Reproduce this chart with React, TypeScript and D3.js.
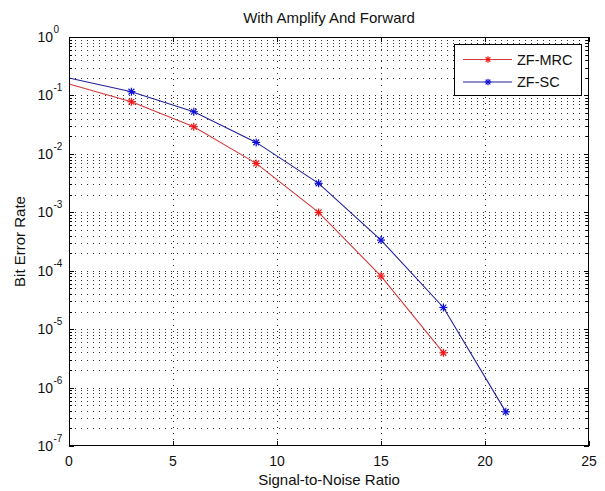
import React from "react";
import * as d3 from "d3";

const SNR = [0, 3, 6, 9, 12, 15, 18, 21];
const MRC = [0.157, 0.078, 0.0291, 0.00687, 0.000995, 0.000081, 0.00000393];
const SC = [0.199, 0.116, 0.0526, 0.0157, 0.00313, 0.000334, 0.0000235, 0.000000384];
const X_TICKS = [0, 5, 10, 15, 20, 25];
const Y_EXPONENTS = [0, -1, -2, -3, -4, -5, -6, -7];
const SERIES = [
  { name: "ZF-MRC", values: MRC, line: "#d23a3a", mark: "#f01818" },
  { name: "ZF-SC", values: SC, line: "#22229a", mark: "#1010d8" },
];

const W = 605, H = 491;
const L = 69, R = 589, T = 37, B = 446;
const FONT = "'Liberation Sans', Arial, sans-serif";

function Star({ cx, cy, color, r = 4 }: { cx: number; cy: number; color: string; r?: number }) {
  const d = r * 0.72;
  return (
    <g stroke={color} strokeWidth={1.2}>
      <line x1={cx - r} y1={cy} x2={cx + r} y2={cy} />
      <line x1={cx} y1={cy - r} x2={cx} y2={cy + r} />
      <line x1={cx - d} y1={cy - d} x2={cx + d} y2={cy + d} />
      <line x1={cx - d} y1={cy + d} x2={cx + d} y2={cy - d} />
    </g>
  );
}

export default function App() {
  const x = d3.scaleLinear().domain([0, 25]).range([L, R]);
  const y = d3.scaleLog().domain([1e-7, 1]).range([B, T]);

  const minor: number[] = [];
  for (let e = -7; e < 0; e++) for (let k = 2; k <= 9; k++) minor.push(k * Math.pow(10, e));
  const major = Y_EXPONENTS.map((e) => Math.pow(10, e));

  const line = d3
    .line<number>()
    .x((_, i) => x(SNR[i]))
    .y((v) => y(v));

  const px = (v: number) => Math.round(v) + 0.5;

  return (
    <svg width={W} height={H} style={{ position: "absolute", left: 0, top: 0, background: "#fff" }} fontFamily={FONT}>
      <rect x={0} y={0} width={W} height={H} fill="#fff" />
      {/* grid */}
      <g stroke="#333" strokeWidth={1} strokeDasharray="1,5" shapeRendering="crispEdges">
        {[...minor, ...major.slice(1, -1)].map((v, i) => (
          <line key={"h" + i} x1={L} x2={R} y1={px(y(v))} y2={px(y(v))} />
        ))}
        {X_TICKS.slice(1, -1).map((t) => (
          <line key={"v" + t} x1={px(x(t))} x2={px(x(t))} y1={T} y2={B} />
        ))}
      </g>
      {/* ticks */}
      <g stroke="#000" strokeWidth={1} shapeRendering="crispEdges">
        {X_TICKS.map((t) => (
          <g key={"xt" + t}>
            <line x1={px(x(t))} x2={px(x(t))} y1={B} y2={B - 5} />
            <line x1={px(x(t))} x2={px(x(t))} y1={T} y2={T + 5} />
          </g>
        ))}
        {major.map((v, i) => (
          <g key={"ym" + i}>
            <line x1={L} x2={L + 5} y1={px(y(v))} y2={px(y(v))} />
            <line x1={R} x2={R - 5} y1={px(y(v))} y2={px(y(v))} />
          </g>
        ))}
        {minor.map((v, i) => (
          <g key={"yn" + i}>
            <line x1={L} x2={L + 3} y1={px(y(v))} y2={px(y(v))} />
            <line x1={R} x2={R - 3} y1={px(y(v))} y2={px(y(v))} />
          </g>
        ))}
      </g>
      {/* data */}
      {SERIES.map((s) => (
        <g key={s.name}>
          <path d={line(s.values) || ""} fill="none" stroke={s.line} strokeWidth={1.1} />
          {s.values.map((v, i) =>
            i === 0 ? null : <Star key={i} cx={x(SNR[i])} cy={y(v)} color={s.mark} />
          )}
        </g>
      ))}
      {/* axes box */}
      <rect x={L + 0.5} y={T + 0.5} width={R - L - 1} height={B - T - 1} fill="none" stroke="#000" strokeWidth={1} />
      {/* x tick labels */}
      <g fontSize={14} fill="#111" textAnchor="middle">
        {X_TICKS.map((t) => (
          <text key={t} x={x(t)} y={466}>
            {t}
          </text>
        ))}
      </g>
      {/* y tick labels */}
      <g fill="#111">
        {Y_EXPONENTS.map((e) => (
          <g key={e}>
            <text x={53} y={y(Math.pow(10, e)) + 5} fontSize={14} textAnchor="end">
              10
            </text>
            <text x={53.5} y={y(Math.pow(10, e)) - 4} fontSize={10} textAnchor="start">
              {e}
            </text>
          </g>
        ))}
      </g>
      {/* labels */}
      <text x={(L + R) / 2} y={23} fontSize={15} textAnchor="middle" fill="#111">
        With Amplify And Forward
      </text>
      <text x={(L + R) / 2} y={485} fontSize={15} textAnchor="middle" fill="#111">
        Signal-to-Noise Ratio
      </text>
      <text
        transform={`translate(25, ${(T + B) / 2}) rotate(-90)`}
        fontSize={15}
        textAnchor="middle"
        fill="#111"
      >
        Bit Error Rate
      </text>
      {/* legend */}
      <g>
        <rect x={454.5} y={44.5} width={127} height={51} fill="#fff" stroke="#000" strokeWidth={1} />
        {SERIES.map((s, i) => {
          const ly = 59.5 + i * 22.5;
          return (
            <g key={s.name}>
              <line x1={463} x2={512} y1={ly} y2={ly} stroke={s.line} strokeWidth={1.1} />
              <Star cx={488} cy={ly} color={s.mark} r={3.3} />
              <text x={517} y={ly + 5} fontSize={14.5} fill="#111">
                {s.name}
              </text>
            </g>
          );
        })}
      </g>
    </svg>
  );
}
